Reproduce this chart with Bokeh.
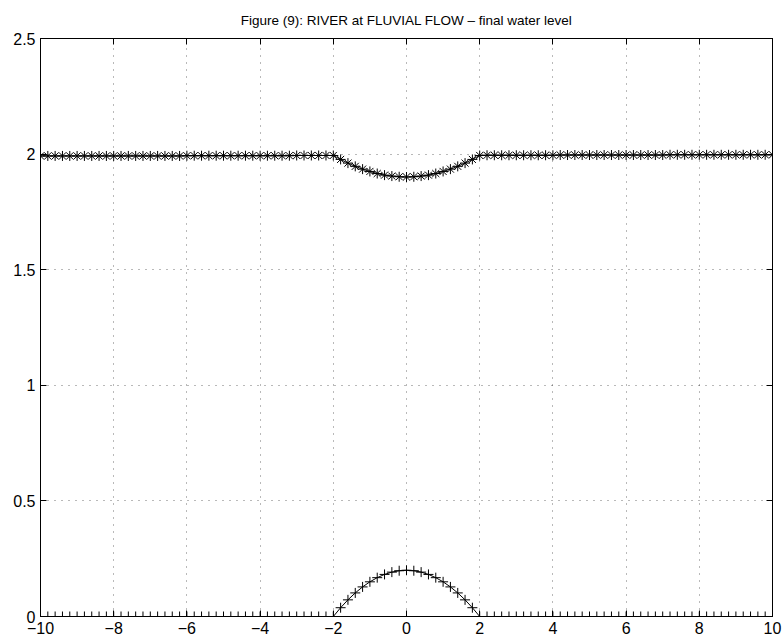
from bokeh.plotting import figure
from bokeh.models import Range1d, FixedTicker, LinearAxis
from bokeh.embed import file_html
from bokeh.resources import INLINE

TITLE = "Figure (9): RIVER at FLUVIAL FLOW \u2013 final water level"

x_vals = [-10.0, -9.8, -9.6, -9.4, -9.2, -9.0, -8.8, -8.6, -8.4, -8.2,
          -8.0, -7.8, -7.6, -7.4, -7.2, -7.0, -6.8, -6.6, -6.4, -6.2,
          -6.0, -5.8, -5.6, -5.4, -5.2, -5.0, -4.8, -4.6, -4.4, -4.2,
          -4.0, -3.8, -3.6, -3.4, -3.2, -3.0, -2.8, -2.6, -2.4, -2.2,
          -2.0, -1.8, -1.6, -1.4, -1.2, -1.0, -0.8, -0.6, -0.4, -0.2,
          0.0, 0.2, 0.4, 0.6, 0.8, 1.0, 1.2, 1.4, 1.6, 1.8,
          2.0, 2.2, 2.4, 2.6, 2.8, 3.0, 3.2, 3.4, 3.6, 3.8,
          4.0, 4.2, 4.4, 4.6, 4.8, 5.0, 5.2, 5.4, 5.6, 5.8,
          6.0, 6.2, 6.4, 6.6, 6.8, 7.0, 7.2, 7.4, 7.6, 7.8,
          8.0, 8.2, 8.4, 8.6, 8.8, 9.0, 9.2, 9.4, 9.6, 9.8,
          10.0]

water_level = [1.992, 1.992, 1.992, 1.992, 1.992, 1.992, 1.992, 1.992, 1.992, 1.992,
               1.992, 1.992, 1.992, 1.992, 1.992, 1.992, 1.992, 1.992, 1.992, 1.992,
               1.993, 1.993, 1.993, 1.993, 1.993, 1.993, 1.993, 1.993, 1.993, 1.993,
               1.993, 1.993, 1.993, 1.993, 1.993, 1.994, 1.994, 1.994, 1.994, 1.994,
               1.994, 1.977, 1.961, 1.947, 1.935, 1.925, 1.916, 1.909, 1.905, 1.902,
               1.901, 1.902, 1.905, 1.909, 1.916, 1.925, 1.935, 1.947, 1.961, 1.977,
               1.994, 1.995, 1.995, 1.995, 1.995, 1.995, 1.995, 1.995, 1.995, 1.995,
               1.995, 1.996, 1.996, 1.996, 1.996, 1.996, 1.996, 1.996, 1.996, 1.996,
               1.996, 1.996, 1.996, 1.996, 1.996, 1.996, 1.997, 1.997, 1.997, 1.997,
               1.997, 1.997, 1.997, 1.997, 1.997, 1.997, 1.997, 1.997, 1.997, 1.997,
               1.997]

bed_level = [0.0, 0.0, 0.0, 0.0, 0.0, 0.0, 0.0, 0.0, 0.0, 0.0,
             0.0, 0.0, 0.0, 0.0, 0.0, 0.0, 0.0, 0.0, 0.0, 0.0,
             0.0, 0.0, 0.0, 0.0, 0.0, 0.0, 0.0, 0.0, 0.0, 0.0,
             0.0, 0.0, 0.0, 0.0, 0.0, 0.0, 0.0, 0.0, 0.0, 0.0,
             0.0, 0.038, 0.072, 0.102, 0.128, 0.150, 0.168, 0.182, 0.192, 0.198,
             0.200, 0.198, 0.192, 0.182, 0.168, 0.150, 0.128, 0.102, 0.072, 0.038,
             0.0, 0.0, 0.0, 0.0, 0.0, 0.0, 0.0, 0.0, 0.0, 0.0,
             0.0, 0.0, 0.0, 0.0, 0.0, 0.0, 0.0, 0.0, 0.0, 0.0,
             0.0, 0.0, 0.0, 0.0, 0.0, 0.0, 0.0, 0.0, 0.0, 0.0,
             0.0, 0.0, 0.0, 0.0, 0.0, 0.0, 0.0, 0.0, 0.0, 0.0,
             0.0]

x_ticks = [-10, -8, -6, -4, -2, 0, 2, 4, 6, 8, 10]
x_tick_labels = ["\u221210", "\u22128", "\u22126", "\u22124", "\u22122", "0", "2", "4", "6", "8", "10"]
y_ticks = [0, 0.5, 1, 1.5, 2, 2.5]
y_tick_labels = ["0", "0.5", "1", "1.5", "2", "2.5"]

FONT = "Liberation Sans"

p = figure(width=784, height=638, output_backend="svg", toolbar_location=None,
           x_range=Range1d(-10, 10), y_range=Range1d(0, 2.5),
           x_axis_location=None, y_axis_location=None,
           min_border_left=40, min_border_right=12, min_border_top=38, min_border_bottom=22,
           background_fill_color="white", border_fill_color="white")

p.title.text = TITLE
p.title.align = "center"
p.title.vertical_align = "top"
p.title.text_font = FONT
p.title.text_font_size = "13.5px"
p.title.text_font_style = "normal"
p.title.text_color = "black"
p.title.standoff = 18
p.title.offset = 0

def style_axis(ax, ticks, overrides, show_labels):
    ax.ticker = FixedTicker(ticks=ticks)
    ax.major_label_overrides = overrides
    ax.major_tick_in = 6
    ax.major_tick_out = 0
    ax.minor_tick_line_color = None
    ax.axis_line_color = "black"
    ax.axis_line_width = 1
    ax.major_tick_line_color = "black"
    ax.major_label_text_font = FONT
    ax.major_label_text_font_size = "16px"
    ax.major_label_text_color = "black" if show_labels else None
    ax.major_label_standoff = 5

xo = {t: l for t, l in zip(x_ticks, x_tick_labels)}
yo = {t: l for t, l in zip(y_ticks, y_tick_labels)}

xb = LinearAxis(); style_axis(xb, x_ticks, xo, True); p.add_layout(xb, "below")
yl = LinearAxis(); style_axis(yl, y_ticks, yo, True); p.add_layout(yl, "left")
xt = LinearAxis(); style_axis(xt, x_ticks, xo, False)
xt.major_label_text_font_size = "0px"; xt.major_label_standoff = 0
p.add_layout(xt, "above")
yr = LinearAxis(); style_axis(yr, y_ticks, yo, False)
yr.major_label_text_font_size = "0px"; yr.major_label_standoff = 0
p.add_layout(yr, "right")

p.xgrid.ticker = FixedTicker(ticks=x_ticks)
p.ygrid.ticker = FixedTicker(ticks=y_ticks)
for g in (p.xgrid, p.ygrid):
    g.grid_line_color = "black"
    g.grid_line_alpha = 0.55
    g.grid_line_dash = "1 6"
    g.grid_line_width = 1

p.outline_line_color = "black"
p.outline_line_width = 1

p.line(x_vals, water_level, line_color="black", line_width=1)
p.scatter(x_vals, water_level, marker="asterisk", size=10, line_color="black", line_width=1)
p.line(x_vals, bed_level, line_color="black", line_width=1)
p.scatter(x_vals, bed_level, marker="cross", size=10, line_color="black", line_width=1)

open("out.html", "w").write(file_html(p, INLINE))
